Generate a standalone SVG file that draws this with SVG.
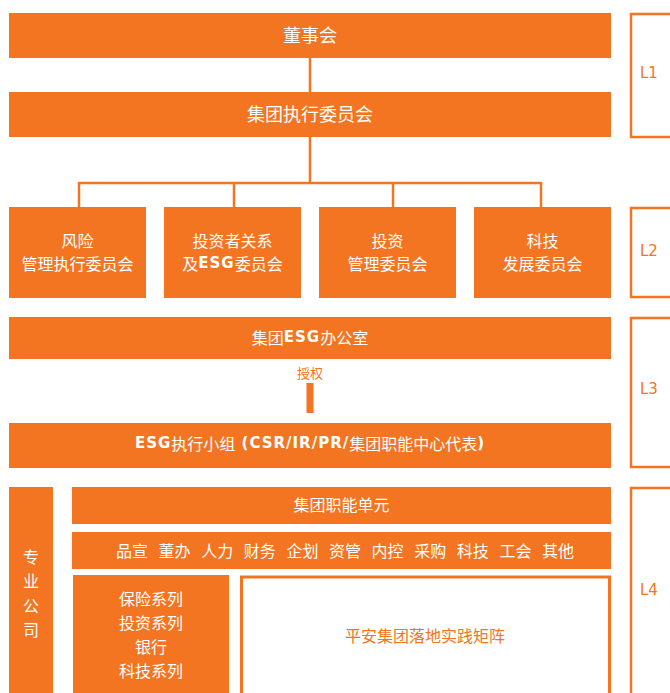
<svg xmlns="http://www.w3.org/2000/svg" width="670" height="693" viewBox="0 0 670 693">
<style>
.box{fill:#F37521}
.t{font-family:"Noto Sans CJK SC","Noto Sans",sans-serif;fill:#fff;text-anchor:middle;dominant-baseline:central}
.e{font-family:"DejaVu Sans","Noto Sans",sans-serif;font-weight:bold;font-size:15px;letter-spacing:1px}
.o{fill:#F37521}
.br{fill:none;stroke:#F37521;stroke-width:2.5}
.ln{fill:none;stroke:#F37521;stroke-width:2.5}
.lv{font-family:"DejaVu Sans","Noto Sans",sans-serif;fill:#F37521;font-size:15px;dominant-baseline:central}
</style>
<rect width="670" height="693" fill="#fff"/>
<g id="connectors">
<path class="ln" d="M310 58V92M310 137V183M79 183H541M79 182V207M234 182V207M393 182V207M541 182V207"/>
<rect class="o" x="306.5" y="383" width="7" height="30"/>
<text class="t" x="310" y="372" font-size="13" style="fill:#F37521">授权</text>
</g>
<g id="board"><rect class="box" x="9" y="13" width="602" height="45"/><text class="t" x="310" y="34" font-size="18">董事会</text></g>
<g id="exec"><rect class="box" x="9" y="92" width="602" height="45"/><text class="t" x="310" y="113" font-size="18">集团执行委员会</text></g>
<g id="risk"><rect class="box" x="9" y="207" width="137" height="91"/><text class="t" x="77.5" y="239.5" font-size="16">风险</text><text class="t" x="77.5" y="263" font-size="16">管理执行委员会</text></g>
<g id="ir"><rect class="box" x="164" y="207" width="137" height="91"/><text class="t" x="232.5" y="239.5" font-size="16">投资者关系</text><text class="t" x="232.5" y="263" font-size="16">及<tspan class="e">ESG</tspan>委员会</text></g>
<g id="inv"><rect class="box" x="319" y="207" width="137" height="91"/><text class="t" x="387.5" y="239.5" font-size="16">投资</text><text class="t" x="387.5" y="263" font-size="16">管理委员会</text></g>
<g id="tech"><rect class="box" x="474" y="207" width="137" height="91"/><text class="t" x="542.5" y="239.5" font-size="16">科技</text><text class="t" x="542.5" y="263" font-size="16">发展委员会</text></g>
<g id="esgoffice"><rect class="box" x="9" y="317" width="602" height="42"/><text class="t" x="310" y="336.5" font-size="16">集团<tspan class="e">ESG</tspan>办公室</text></g>
<g id="esggroup"><rect class="box" x="9" y="423" width="602" height="45"/><text class="t" x="310" y="443" font-size="16"><tspan class="e">ESG</tspan>执行小组<tspan class="e"> (CSR/IR/PR/</tspan>集团职能中心代表<tspan class="e">)</tspan></text></g>
<g id="special"><rect class="box" x="9" y="487" width="44" height="210"/>
<text class="t" x="31" y="555.5" font-size="16">专</text><text class="t" x="31" y="580" font-size="16">业</text><text class="t" x="31" y="604.5" font-size="16">公</text><text class="t" x="31" y="628.5" font-size="16">司</text></g>
<g id="func"><rect class="box" x="72" y="487" width="539" height="37"/><text class="t" x="341.5" y="504" font-size="16">集团职能单元</text></g>
<g id="funcs"><rect class="box" x="72" y="532" width="539" height="37"/>
<text class="t" x="132" y="550" font-size="16">品宣</text><text class="t" x="174.6" y="550" font-size="16">董办</text><text class="t" x="217.2" y="550" font-size="16">人力</text><text class="t" x="259.8" y="550" font-size="16">财务</text><text class="t" x="302.4" y="550" font-size="16">企划</text><text class="t" x="345" y="550" font-size="16">资管</text><text class="t" x="387.6" y="550" font-size="16">内控</text><text class="t" x="430.2" y="550" font-size="16">采购</text><text class="t" x="472.8" y="550" font-size="16">科技</text><text class="t" x="515.4" y="550" font-size="16">工会</text><text class="t" x="558" y="550" font-size="16">其他</text></g>
<g id="series"><rect class="box" x="73" y="575" width="156" height="125"/>
<text class="t" x="151" y="598" font-size="16">保险系列</text><text class="t" x="151" y="622" font-size="16">投资系列</text><text class="t" x="151" y="645.5" font-size="16">银行</text><text class="t" x="151" y="669.5" font-size="16">科技系列</text></g>
<g id="matrix"><rect x="241.5" y="577" width="368" height="130" fill="#fff" stroke="#F37521" stroke-width="3"/><text class="t" x="425" y="634.5" font-size="16" style="fill:#F37521">平安集团落地实践矩阵</text></g>
<g id="levels">
<path class="br" d="M672 14H631V137H672"/><text class="lv" x="640" y="73">L1</text>
<path class="br" d="M672 208H631V297H672"/><text class="lv" x="640" y="251">L2</text>
<path class="br" d="M672 318H631V467H672"/><text class="lv" x="640" y="389">L3</text>
<path class="br" d="M672 488H631V700"/><text class="lv" x="640" y="590">L4</text>
</g>
</svg>
